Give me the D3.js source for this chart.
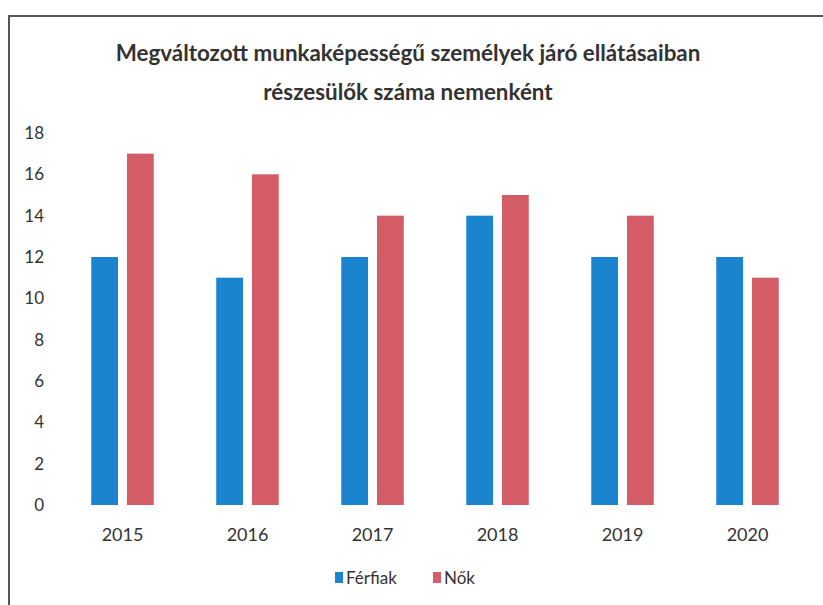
<!DOCTYPE html>
<html>
<head>
<meta charset="utf-8">
<script src="https://cdn.jsdelivr.net/npm/d3@7"></script>
<style>
  body { margin: 0; background: #fff; }
</style>
</head>
<body>
<script>
var years = ["2015", "2016", "2017", "2018", "2019", "2020"];
var series_names = ["Férfiak", "Nők"];
var ferfiak = [12, 11, 12, 14, 12, 12];
var nok = [17, 16, 14, 15, 14, 11];
var y_ticks = [0, 2, 4, 6, 8, 10, 12, 14, 16, 18];
var title_lines = ["Megváltozott munkaképességű személyek járó ellátásaiban", "részesülők száma nemenként"];
var colors = ["#1a84cf", "#d35c67"];

var canvas_width = 823;
var canvas_height = 605;
var font = "Lato, 'Open Sans', sans-serif";

var table = years.map(function(y, i) {
  return { year: y, values: [ferfiak[i], nok[i]] };
});

var svg = d3.select("body")
  .append("svg")
  .attr("width", canvas_width)
  .attr("height", canvas_height);

// scanned frame
svg.append("path")
  .attr("d", "M9,610 L9,16 L823,16")
  .attr("fill", "none")
  .attr("stroke", "#555")
  .attr("stroke-width", 2);

// title
svg.selectAll(".title")
  .data(title_lines)
  .enter()
  .append("text")
  .attr("class", "title")
  .attr("x", 408)
  .attr("y", function(d, i) { return 61 + i * 39; })
  .attr("text-anchor", "middle")
  .attr("font-family", font)
  .attr("font-weight", "bold")
  .attr("font-size", "22.4px")
  .attr("fill", "#333")
  .text(function(d) { return d; });

var x0 = d3.scaleBand()
  .domain(years)
  .range([60, 810])
  .paddingInner(0.5)
  .paddingOuter(0.25);

var x1 = d3.scaleBand()
  .domain([0, 1])
  .range([0, x0.bandwidth()])
  .paddingInner(0.25);

var y = d3.scaleLinear()
  .domain([0, 18])
  .range([505, 133]);

// y axis labels
var yAxis = d3.axisLeft(y).tickValues(y_ticks).tickSize(0).tickPadding(0);
var yg = svg.append("g")
  .attr("transform", "translate(44,0)")
  .call(yAxis);
yg.select(".domain").remove();
yg.selectAll("text")
  .attr("font-family", font)
  .attr("font-size", "17px")
  .attr("fill", "#333");

// x axis labels
var xAxis = d3.axisBottom(x0).tickSize(0).tickPadding(0);
var xg = svg.append("g")
  .attr("transform", "translate(0,528)")
  .call(xAxis);
xg.select(".domain").remove();
xg.selectAll("text")
  .attr("font-family", font)
  .attr("font-size", "18px")
  .attr("fill", "#333");

// bars
var groups = svg.selectAll(".group")
  .data(table)
  .enter()
  .append("g")
  .attr("class", "group")
  .attr("transform", function(d) { return "translate(" + x0(d.year) + ",0)"; });

groups.selectAll("rect")
  .data(function(d) { return d.values; })
  .enter()
  .append("rect")
  .attr("x", function(d, i) { return x1(i); })
  .attr("y", function(d) { return y(d); })
  .attr("width", x1.bandwidth())
  .attr("height", function(d) { return y(0) - y(d); })
  .attr("fill", function(d, i) { return colors[i]; });

// legend
var legend_x = [335, 433];
var legend = svg.selectAll(".legend")
  .data(series_names)
  .enter()
  .append("g")
  .attr("class", "legend")
  .attr("transform", function(d, i) { return "translate(" + legend_x[i] + ",572)"; });

legend.append("rect")
  .attr("width", 8)
  .attr("height", 11)
  .attr("fill", function(d, i) { return colors[i]; });

legend.append("text")
  .attr("x", 11)
  .attr("y", 12)
  .attr("font-family", font)
  .attr("font-size", "17px")
  .attr("fill", "#333")
  .text(function(d) { return d; });
</script>
</body>
</html>
